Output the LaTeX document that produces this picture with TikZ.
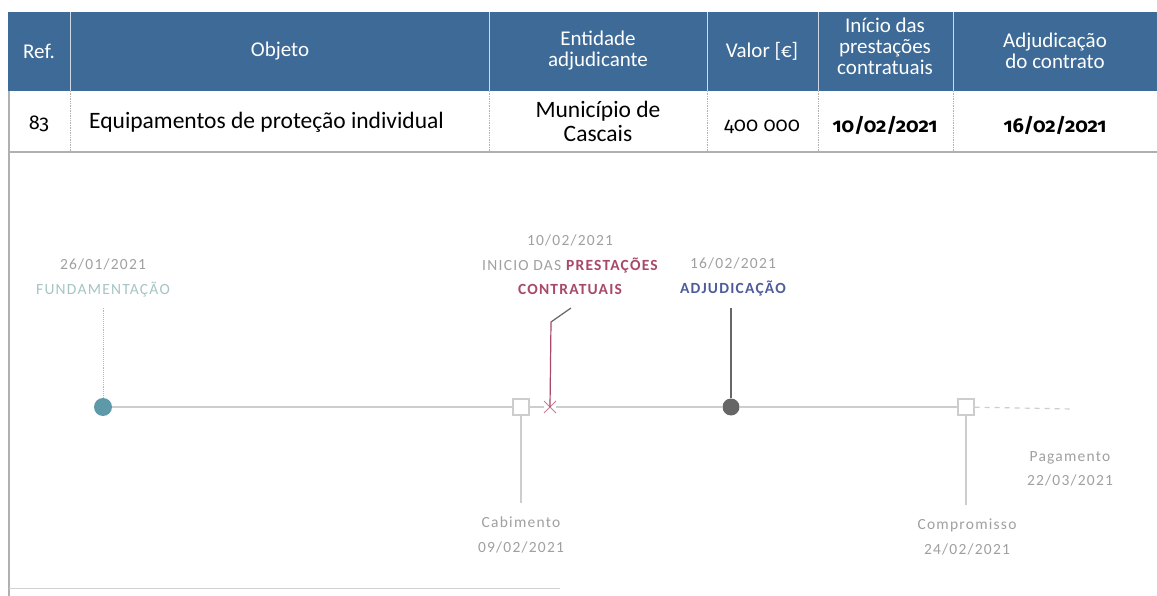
\documentclass[tikz,border=0pt]{standalone}
\usepackage{fontspec}
\setmainfont{Carlito}
\newfontfamily\tlfont{Carlito}[LetterSpace=8]
\newfontfamily\onum{Fira Sans}[Numbers=OldStyle]
\usetikzlibrary{shapes.misc}
\definecolor{hdr}{HTML}{3D6A96}
\definecolor{grid}{HTML}{B0B0B0}
\definecolor{tl}{HTML}{CDCDCD}
\definecolor{tltext}{HTML}{A0A0A0}
\definecolor{teal}{HTML}{5E99AA}
\definecolor{fundtxt}{HTML}{A6C4C4}
\definecolor{redc}{HTML}{A8486A}
\definecolor{bluec}{HTML}{4E5C9C}
\definecolor{darkg}{HTML}{666666}
\tikzset{
  hcell/.style={text=white, font=\fontsize{21}{21}\selectfont, align=center, inner sep=0pt},
  dcell/.style={text=black, font=\fontsize{23.5}{24}\selectfont, align=center, inner sep=0pt},
  tltxt/.style={text=tltext, font=\tlfont\fontsize{15.5}{24.5}\selectfont, align=center, inner sep=0pt},
  sq/.style={draw=tl, fill=white, line width=1.2pt, minimum size=16pt, inner sep=0pt},
  tlline/.style={draw=tl, line width=1.6pt},
}
\begin{document}
\begin{tikzpicture}[x=1pt,y=-1pt]
\useasboundingbox (0,0) rectangle (1157,596);
\fill[white] (0,0) rectangle (1157,596);
% table header
\fill[hdr] (8,12) rectangle (1157,91);
\foreach \x in {70,489,707,818,953}{
  \draw[white!75!hdr, line width=0.8pt] (\x,12) -- (\x,91);
  \draw[grid, densely dotted, line width=0.7pt] (\x,91) -- (\x,151);
}
\draw[grid, line width=1.4pt] (8,152) -- (1157,152);
\draw[grid, line width=1.2pt] (9,91) -- (9,596);
\draw[grid!60, line width=1pt] (9,588) -- (560,588);
% header texts
\node[hcell] (h1) at (39,51) {Ref.};
\node[hcell] (h2) at (280,51) {Objeto};
\node[hcell] (h3) at (598,51) {Entidade\\adjudicante};
\node[hcell] (h4) at (762,51) {Valor [€]};
\node[hcell] (h5) at (885,46) {Início das\\prestações\\contratuais};
\node[hcell] (h6) at (1055,51) {Adjudicação\\do contrato};
% data row
\node[dcell] (d1) at (39,124) {\onum\fontsize{20}{20}\selectfont 83};
\node[dcell, anchor=west] (d2) at (89,122) {Equipamentos de proteção individual};
\node[dcell] (d3) at (598,121) {Município de\\Cascais};
\node[dcell] (d4) at (762,127) {\onum\fontsize{20}{20}\selectfont 400 000};
\node[dcell] (d5) at (885,125) {\onum\fontsize{20}{20}\selectfont\bfseries 10/02/2021};
\node[dcell] (d6) at (1055,125) {\onum\fontsize{20}{20}\selectfont\bfseries 16/02/2021};
% timeline markers
\node[circle, fill=teal, minimum size=18pt, inner sep=0pt] (fund) at (103,407) {};
\node[sq] (cab) at (521,407) {};
\node[cross out, draw=redc!70, line width=1pt, minimum size=11pt, inner sep=0pt] (ini) at (550,407) {};
\node[circle, fill=darkg, minimum size=17pt, inner sep=0pt] (adj) at (731,407) {};
\node[sq] (comp) at (966,407) {};
\coordinate (pagend) at (1072,409);
% timeline line
\draw[tlline] (fund) -- (cab);
\draw[tlline] (cab) -- (ini);
\draw[tlline] (ini) -- (adj);
\draw[tlline] (adj) -- (comp);
\draw[draw=tl, line width=1.2pt, dash pattern=on 5pt off 5pt] (comp) -- (pagend);
% labels
\node[tltxt] (fundlab) at (103,278) {26/01/2021\\{\color{fundtxt}FUNDAMENTAÇÃO}};
\node[tltxt] (inilab) at (570,265) {10/02/2021\\INICIO DAS {\color{redc}\bfseries PRESTAÇÕES}\\{\color{redc}\bfseries CONTRATUAIS}};
\node[tltxt] (adjlab) at (733,277) {16/02/2021\\{\color{bluec}\bfseries ADJUDICAÇÃO}};
\node[tltxt] (cablab) at (521,535) {Cabimento\\09/02/2021};
\node[tltxt] (complab) at (967,537) {Compromisso\\24/02/2021};
\node[tltxt] (paglab) at (1070,469) {Pagamento\\22/03/2021};
% leaders
\draw[draw=teal!60, densely dotted, line width=0.9pt] (fund.north) -- (fund.north |- 0,308);
\coordinate (ibend) at (551,322);
\coordinate (itop) at (571,308);
\draw[draw=redc, line width=1.2pt] (ini.center) -- (ibend);
\draw[draw=darkg, line width=1.2pt] (ibend) -- (itop);
\draw[draw=darkg, line width=1.1pt] (adj.north) -- (adj.north |- 0,308);
\draw[draw=tl, line width=1.2pt] (cab.south) -- (cab.south |- 0,503);
\draw[draw=tl, line width=1.2pt] (comp.south) -- (comp.south |- 0,505);
\end{tikzpicture}
\end{document}
